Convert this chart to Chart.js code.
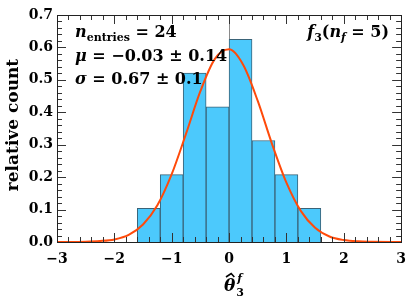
<!DOCTYPE html>
<html>
<head>
<meta charset="utf-8">
<script src="https://cdn.jsdelivr.net/npm/chart.js@4/dist/chart.umd.min.js"></script>
<style>
  html, body { margin: 0; padding: 0; background: #fff; }
  #wrap { width: 415px; height: 301px; }
</style>
</head>
<body>
<div id="wrap"><canvas id="histChart" width="415" height="301"></canvas></div>
<script>
// histogram bins (centres) and relative counts
const binCenters = [-1.4, -1.0, -0.6, -0.2, 0.2, 0.6, 1.0, 1.4];
const relCounts = [0.104, 0.208, 0.521, 0.417, 0.625, 0.313, 0.208, 0.104];

// fitted curve
const curveX = [-3, -2.5, -2.25, -2, -1.75, -1.5, -1.25, -1, -0.75, -0.5, -0.25, 0, 0.25, 0.5, 0.75, 1, 1.25, 1.5, 1.75, 2, 2.25, 2.5, 3];
const curveY = [0, 0.001, 0.003, 0.008, 0.022, 0.054, 0.113, 0.209, 0.334, 0.465, 0.564, 0.594, 0.545, 0.435, 0.302, 0.183, 0.096, 0.044, 0.017, 0.006, 0.002, 0.001, 0];

const xTicks = [-3, -2, -1, 0, 1, 2, 3];
const yTicks = [0.0, 0.1, 0.2, 0.3, 0.4, 0.5, 0.6, 0.7];

const FONT = 'DejaVu Serif';
const minus = v => String(v).replace('-', '\u2212');

// draw a run of text pieces [text, font, dy]
function drawRun(ctx, x, y, parts, align) {
  let total = 0;
  parts.forEach(p => { ctx.font = p[1]; total += ctx.measureText(p[0]).width; });
  let cx = align === 'right' ? x - total : x;
  ctx.textAlign = 'left';
  ctx.textBaseline = 'alphabetic';
  parts.forEach(p => {
    ctx.font = p[1];
    ctx.fillText(p[0], cx, y + (p[2] || 0));
    cx += ctx.measureText(p[0]).width;
  });
}

const framePlugin = {
  id: 'frame',
  beforeDatasetsDraw(chart) {
    const { ctx, chartArea: a, scales: { x } } = chart;
    ctx.save();
    ctx.strokeStyle = '#8a8a8a';
    ctx.lineWidth = 1;
    const x0 = Math.round(x.getPixelForValue(0)) + 0.5;
    ctx.beginPath(); ctx.moveTo(x0, a.top); ctx.lineTo(x0, a.bottom); ctx.stroke();
    ctx.restore();
  },
  afterDatasetsDraw(chart) {
    const { ctx, chartArea: a, scales: { x, y } } = chart;
    ctx.save();
    ctx.strokeStyle = '#333';
    ctx.lineWidth = 1;
    ctx.beginPath();
    // x ticks, bottom and top
    for (let i = 0; i <= 30; i++) {
      const v = -3 + i * 0.2;
      const px = Math.round(x.getPixelForValue(v)) + 0.5;
      const len = (i % 5 === 0) ? 9 : 5;
      ctx.moveTo(px, a.bottom); ctx.lineTo(px, a.bottom - len);
      ctx.moveTo(px, a.top); ctx.lineTo(px, a.top + len);
    }
    // y ticks, left and right
    for (let i = 0; i <= 35; i++) {
      const v = i * 0.02;
      const py = Math.round(y.getPixelForValue(v)) + 0.5;
      const len = (i % 5 === 0) ? 9 : 5;
      ctx.moveTo(a.left, py); ctx.lineTo(a.left + len, py);
      ctx.moveTo(a.right, py); ctx.lineTo(a.right - len, py);
    }
    ctx.stroke();
    ctx.strokeStyle = '#222';
    ctx.strokeRect(Math.round(a.left) + 0.5, Math.round(a.top) + 0.5,
      Math.round(a.right - a.left), Math.round(a.bottom - a.top));

    // annotations
    ctx.fillStyle = '#000';
    const big = 'bold 16px ' + FONT, bigI = 'italic bold 16px ' + FONT;
    const sm = 'bold 11px ' + FONT, smI = 'italic bold 11px ' + FONT;
    drawRun(ctx, 75, 37, [['n', bigI], ['entries', sm, 4], [' = 24', big]]);
    drawRun(ctx, 75, 61, [['\u03bc', bigI], [' = \u22120.03 \u00b1 0.14', big]]);
    drawRun(ctx, 75, 84, [['\u03c3', bigI], [' = 0.67 \u00b1 0.1', big]]);
    drawRun(ctx, 389, 37, [['f', bigI], ['3', sm, 4], ['(', big], ['n', bigI], ['f', smI, 4], [' = 5)', big]], 'right');

    // x title: theta hat with sub/superscript
    ctx.font = 'italic bold 17px ' + FONT;
    const th = '\u03b8';
    const tw = ctx.measureText(th).width;
    const tx = 224, ty = 291;
    ctx.fillText(th, tx, ty);
    ctx.strokeStyle = '#000';
    ctx.lineWidth = 1.6;
    ctx.beginPath();
    ctx.moveTo(tx + 2, ty - 14); ctx.lineTo(tx + tw / 2 + 1.5, ty - 17.5); ctx.lineTo(tx + tw - 1, ty - 14);
    ctx.stroke();
    ctx.font = sm;
    ctx.fillText('3', tx + tw + 1, ty + 5);
    ctx.font = smI;
    ctx.fillText('f', tx + tw + 2, ty - 9);

    ctx.translate(14, 125);
    ctx.rotate(-Math.PI / 2);
    ctx.font = 'bold 17px ' + FONT;
    ctx.textAlign = 'center';
    ctx.textBaseline = 'middle';
    ctx.fillText('relative count', 0, 0);
    ctx.restore();
  }
};

new Chart(document.getElementById('histChart'), {
  type: 'bar',
  data: {
    datasets: [
      {
        type: 'line',
        data: curveX.map((v, i) => ({ x: v, y: curveY[i] })),
        borderColor: '#ff4a0a',
        borderWidth: 2,
        pointRadius: 0,
        cubicInterpolationMode: 'monotone',
        fill: false,
        order: 0
      },
      {
        type: 'bar',
        data: binCenters.map((v, i) => ({ x: v, y: relCounts[i] })),
        backgroundColor: '#4cc9fc',
        borderColor: '#3a6378',
        borderWidth: 1,
        barPercentage: 1,
        categoryPercentage: 1,
        order: 1
      }
    ]
  },
  options: {
    responsive: false,
    animation: false,
    layout: { padding: { top: 15, right: 10, left: 0, bottom: 0 } },
    plugins: { legend: { display: false }, tooltip: { enabled: false } },
    scales: {
      x: {
        type: 'linear', min: -3, max: 3, offset: false,
        grid: { display: false, drawTicks: false, offset: false },
        border: { display: false },
        afterBuildTicks: s => { s.ticks = xTicks.map(v => ({ value: v })); },
        afterFit: s => { s.height = 59; },
        ticks: {
          padding: 9, color: '#000',
          font: { family: FONT, size: 14, weight: 'bold' },
          callback: v => minus(v)
        }
      },
      y: {
        min: 0, max: 0.7,
        grid: { display: false, drawTicks: false },
        border: { display: false },
        afterBuildTicks: s => { s.ticks = yTicks.map(v => ({ value: v })); },
        afterFit: s => { s.width = 57; },
        ticks: {
          padding: 4, color: '#000',
          font: { family: FONT, size: 14, weight: 'bold' },
          callback: v => v.toFixed(1)
        }
      }
    }
  },
  plugins: [framePlugin]
});
</script>
</body>
</html>
